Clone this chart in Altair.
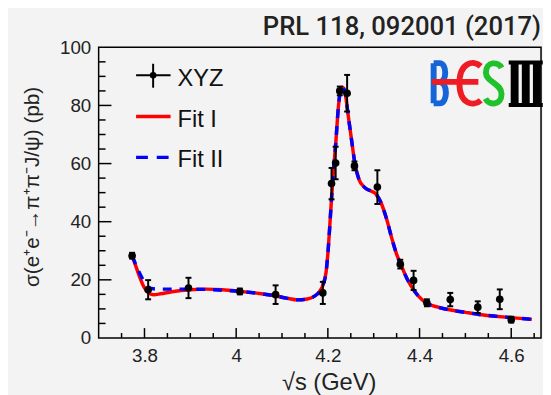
import altair as alt
import pandas as pd

# ---------------- data ----------------
pt_x = [3.773, 3.808, 3.896, 4.008, 4.086, 4.189, 4.208, 4.217, 4.226, 4.242,
         4.258, 4.308, 4.358, 4.387, 4.416, 4.467, 4.527, 4.575, 4.600]
pt_y = [28.3, 16.6, 17.2, 16.0, 14.9, 15.5, 53.1, 60.2, 85.0, 84.2,
        59.2, 51.9, 25.4, 19.8, 12.1, 13.2, 10.6, 13.3, 6.3]
pt_err = [1.0, 3.3, 3.5, 1.0, 3.2, 3.8, 5.4, 5.6, 1.5, 6.3,
          1.5, 5.8, 1.5, 3.3, 1.2, 2.3, 2.0, 3.4, 1.0]

fit1_x = [3.773, 3.780, 3.790, 3.800, 3.810, 3.820, 3.835, 3.860, 3.900, 3.935,
          3.970, 4.010, 4.050, 4.085, 4.110, 4.135, 4.155, 4.170, 4.182, 4.190,
          4.196, 4.201, 4.206, 4.211, 4.217, 4.223, 4.228, 4.232, 4.238, 4.244,
          4.252, 4.259, 4.268, 4.280, 4.295, 4.305, 4.316, 4.328, 4.340, 4.350,
          4.360, 4.373, 4.390, 4.405, 4.420, 4.440, 4.468, 4.500, 4.530, 4.565,
          4.600, 4.645]
fit1_y = [28.3, 25.2, 20.8, 17.2, 15.4, 14.9, 15.2, 15.9, 16.6, 16.8,
          16.6, 16.0, 15.3, 14.5, 13.7, 13.1, 13.4, 14.3, 16.0, 18.5,
          22.5, 31.0, 43.0, 55.0, 66.5, 79.5, 85.5, 86.3, 84.0, 77.0,
          67.8, 60.0, 54.5, 51.8, 50.5, 49.5, 46.5, 41.0, 34.0, 28.8,
          25.0, 20.3, 15.9, 13.2, 11.6, 10.6, 9.6, 8.8, 8.1, 7.5,
          7.0, 6.4]

fit2_x = [3.773, 3.785, 3.797, 3.808, 3.820, 3.840, 3.870, 3.900, 3.935, 3.970] + fit1_x[11:]
fit2_y = [28.3, 23.8, 20.0, 17.6, 16.9, 16.8, 16.8, 16.8, 16.7, 16.4] + fit1_y[11:]

x_major = [3.8, 4.0, 4.2, 4.4, 4.6]
x_minor = [3.75, 3.85, 3.9, 3.95, 4.05, 4.1, 4.15, 4.25, 4.3, 4.35, 4.45, 4.5, 4.55, 4.65]
y_labels = [0, 20, 40, 60, 80, 100]
y_major = [20, 40, 60, 80]
y_minor = [5, 10, 15, 25, 30, 35, 45, 50, 55, 65, 70, 75, 85, 90, 95]

legend_labels = ["XYZ", "Fit I", "Fit II"]
title_text = "PRL 118, 092001 (2017)"
x_title = "√s (GeV)"
y_title = "σ(e⁺e⁻→π⁺π⁻J/ψ) (pb)"

# ---------------- tables ----------------
pts = pd.DataFrame({"x": pt_x, "y": pt_y, "lo": [a - b for a, b in zip(pt_y, pt_err)],
                    "hi": [a + b for a, b in zip(pt_y, pt_err)]})
f1 = pd.DataFrame({"x": fit1_x, "y": fit1_y})
f2 = pd.DataFrame({"x": fit2_x, "y": fit2_y})
xmaj = pd.DataFrame({"x": x_major})
xmin = pd.DataFrame({"x": x_minor})
ymaj = pd.DataFrame({"y": y_major})
ymin = pd.DataFrame({"y": y_minor})
one = pd.DataFrame({"k": [0]})

W, H = 449, 295
FONT = "Liberation Sans"
xs = alt.Scale(domain=[3.7, 4.665], nice=False, zero=False)
ys = alt.Scale(domain=[0, 100], nice=False, zero=False)

xaxis = alt.Axis(values=x_major, format="~g", ticks=False, domain=False, grid=False,
                 labelFont=FONT, labelFontSize=19, labelColor="#222", labelPadding=9,
                 labelFlush=False, labelOverlap=False, title=None)
yaxis = alt.Axis(values=y_labels, ticks=False, domain=False, grid=False,
                 labelFont=FONT, labelFontSize=19, labelColor="#222", labelPadding=8,
                 labelFlush=False, labelOverlap=False, title=None)


def X(f="x"):
    return alt.X(f + ":Q", scale=xs, axis=xaxis)


def Y(f="y"):
    return alt.Y(f + ":Q", scale=ys, axis=yaxis)


# inward ticks
tx_major = alt.Chart(xmaj).mark_rule(color="black", strokeWidth=1.5).encode(
    x=X(), y=alt.value(H), y2=alt.value(H - 10))
tx_minor = alt.Chart(xmin).mark_rule(color="black", strokeWidth=1.5).encode(
    x=X(), y=alt.value(H), y2=alt.value(H - 5))
ty_major = alt.Chart(ymaj).mark_rule(color="black", strokeWidth=1.5).encode(
    y=Y(), x=alt.value(0), x2=alt.value(13))
ty_minor = alt.Chart(ymin).mark_rule(color="black", strokeWidth=1.5).encode(
    y=Y(), x=alt.value(0), x2=alt.value(7))

line1 = alt.Chart(f1).mark_line(color="#ff0000", strokeWidth=3.5, interpolate="monotone").encode(
    x=X(), y=Y())
line2 = alt.Chart(f2).mark_line(color="#0000ff", strokeWidth=3.5, strokeDash=[9, 8],
                                interpolate="monotone").encode(x=X(), y=Y())

ebar = alt.Chart(pts).mark_rule(color="black", strokeWidth=2).encode(
    x=X(), y=Y("lo"), y2="hi:Q")
cap_hi = alt.Chart(pts).mark_rule(color="black", strokeWidth=2, xOffset=-3, x2Offset=3).encode(
    x=X(), x2="x:Q", y=Y("hi"))
cap_lo = alt.Chart(pts).mark_rule(color="black", strokeWidth=2, xOffset=-3, x2Offset=3).encode(
    x=X(), x2="x:Q", y=Y("lo"))
dots = alt.Chart(pts).mark_circle(color="black", size=60, opacity=1).encode(x=X(), y=Y())

# legend (inside plot, top-left)
lg = []
lg.append(alt.Chart(one).mark_rule(color="black", strokeWidth=2).encode(
    x=alt.value(38), x2=alt.value(73), y=alt.value(28.3)))
lg.append(alt.Chart(one).mark_rule(color="black", strokeWidth=2).encode(
    x=alt.value(55.3), y=alt.value(16.7), y2=alt.value(41)))
lg.append(alt.Chart(one).mark_circle(color="black", size=45, opacity=1).encode(
    x=alt.value(55.3), y=alt.value(28.3)))
lg.append(alt.Chart(one).mark_rule(color="#ff0000", strokeWidth=3.5).encode(
    x=alt.value(38), x2=alt.value(73), y=alt.value(70.3)))
lg.append(alt.Chart(one).mark_rule(color="#0000ff", strokeWidth=3.5, strokeDash=[12, 9]).encode(
    x=alt.value(38), x2=alt.value(73), y=alt.value(111.7)))
for lab, yy in zip(legend_labels, [39.3, 80.5, 121.0]):
    lg.append(alt.Chart(one).mark_text(text=lab, font=FONT, fontSize=24, color="#111",
                                       align="left", baseline="alphabetic").encode(
        x=alt.value(80), y=alt.value(yy)))

# titles
ttl = alt.Chart(one).mark_text(text=title_text, font="Roboto", fontSize=26, fontWeight=500,
                               color="#222", align="right", baseline="alphabetic").encode(
    x=alt.value(449), y=alt.value(-12))
xt = alt.Chart(one).mark_text(text=x_title, font=FONT, fontSize=24, color="#222",
                              align="center", baseline="alphabetic").encode(
    x=alt.value(234), y=alt.value(348))
yt = alt.Chart(one).mark_text(text=y_title, font=FONT, fontSize=21, color="#222", angle=270,
                              align="center", baseline="middle").encode(
    x=alt.value(-66.5), y=alt.value(141.7))

# BESIII logo drawn with stroked symbol paths (1 unit = 24 px)
B_path = ("M -0.25 -0.85 L -0.25 0.85 M -0.25 -0.85 L 0 -0.85 C 0.32 -0.85 0.32 -0.05 0 -0.05 "
          "L -0.25 -0.05 M 0 -0.05 C 0.36 -0.05 0.36 0.85 0 0.85 L -0.25 0.85")
E_path = ("M 0.45 -0.72 C 0.15 -1.0 -0.45 -0.9 -0.45 0 C -0.45 0.9 0.15 1.0 0.45 0.72 "
          "M -1.62 -0.06 L 0.35 -0.06")
S_path = ("M 0.33 -0.65 C 0.2 -0.92 -0.33 -0.95 -0.33 -0.45 C -0.33 -0.05 0.33 0.0 0.33 0.45 "
          "C 0.33 0.95 -0.2 0.95 -0.35 0.65")
III_stems = "M -0.47 -0.85 L -0.47 0.85 M 0 -0.85 L 0 0.85 M 0.47 -0.85 L 0.47 0.85"
III_bars = "M -0.72 -0.9 L 0.72 -0.9 M -0.72 0.9 L 0.72 0.9"
logo = []
for path, col, sw, cx, cy in [(B_path, "#1565d8", 6, 346, 36.5),
                              (E_path, "#ee1c25", 6, 377, 36.5),
                              (S_path, "#1fc22a", 6, 401, 36.5),
                              (III_stems, "#000000", 8, 433.5, 37),
                              (III_bars, "#000000", 4, 433.5, 37)]:
    logo.append(alt.Chart(one).mark_point(shape=path, size=2304, filled=False, stroke=col,
                                          strokeWidth=sw, opacity=1).encode(
        x=alt.value(cx), y=alt.value(cy)))

chart = alt.layer(tx_major, tx_minor, ty_major, ty_minor, line1, line2,
                  ebar, cap_hi, cap_lo, dots, *lg, ttl, xt, yt, *logo).properties(
    width=W, height=H,
    autosize=alt.AutoSizeParams(type="none"),
    padding={"left": 92, "top": 37, "right": 2, "bottom": 55},
    background="#f3f3f3",
).configure_view(stroke="black", strokeWidth=1.5)

chart.save("out.html", embed_options={"renderer": "svg", "actions": False})
